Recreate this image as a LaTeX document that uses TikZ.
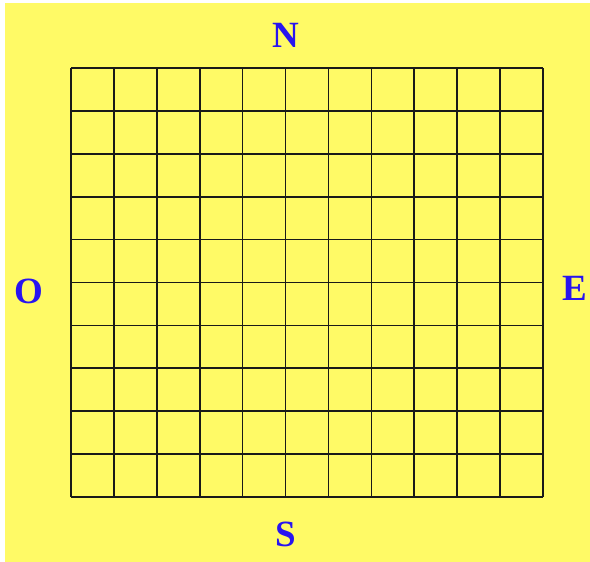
\documentclass[tikz,border=0pt]{standalone}
\usepackage{fontspec}
\setmainfont{Liberation Serif}
\definecolor{bgyellow}{RGB}{255,250,102}
\definecolor{labelblue}{RGB}{40,20,240}
\begin{document}
\begin{tikzpicture}[x=1pt,y=-1pt,
  compass/.style={text=labelblue,font=\fontsize{37}{40}\selectfont\bfseries,inner sep=0pt},
  gridline/.style={draw=black!90,line width=1.7pt}]
\useasboundingbox (0,0) rectangle (590,562);
\fill[bgyellow] (5,3) rectangle (590,562);
\foreach \i in {0,...,11}{
  \draw[gridline] ({71+\i*472/11},68) -- ({71+\i*472/11},497);
}
\foreach \j in {0,...,10}{
  \draw[gridline] (71,{68+\j*42.9}) -- (543,{68+\j*42.9});
}
\node[compass] (N) at (286,35) {N};
\node[compass] (S) at (285.5,534.5) {S};
\node[compass] (O) at (29,291.5) {O};
\node[compass] (E) at (575,288.5) {E};
\end{tikzpicture}
\end{document}
